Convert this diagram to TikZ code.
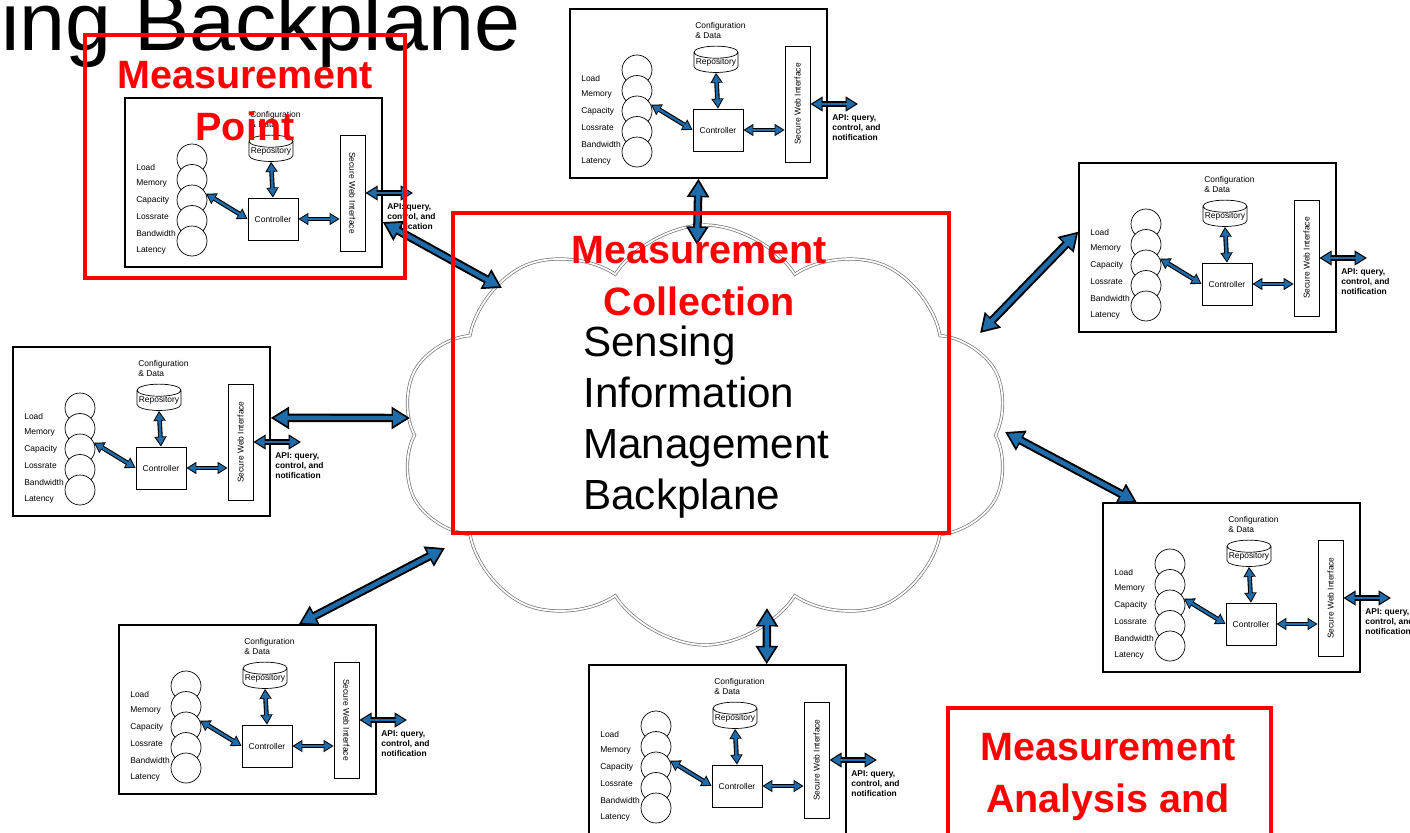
\documentclass[tikz,border=0pt]{standalone}
\usepackage{fontspec}
\setmainfont{Liberation Sans}
\usepackage{tikz}
\usetikzlibrary{calc,arrows.meta,shapes.geometric,shapes.symbols}
\definecolor{linkblue}{RGB}{30,108,170}
\definecolor{markred}{RGB}{255,0,0}
\tikzset{
  modbox/.style={draw, line width=0.8pt, minimum width=5.14cm, minimum height=3.38cm, inner sep=0pt},
  tinytext/.style={font=\fontsize{4.8}{5.7}\selectfont, inner sep=0pt, align=left},
  apitext/.style={font=\bfseries\fontsize{4.8}{5.7}\selectfont, inner sep=0pt, align=left},
  repo/.style={draw, cylinder, shape border rotate=90, aspect=0.3, minimum width=0.88cm, minimum height=0.5cm, inner sep=0pt, font=\fontsize{4.8}{5.7}\selectfont},
  ctrl/.style={draw, fill=white, minimum width=1cm, minimum height=0.84cm, inner sep=0pt, font=\fontsize{4.8}{5.7}\selectfont},
  swi/.style={draw, minimum width=0.5cm, minimum height=2.32cm, inner sep=0pt},
  stackc/.style={draw, circle, fill=white, minimum size=0.6cm, inner sep=0pt},
  linkout/.style={black, line width=#1*2.3pt, {Triangle[width=5.8pt,length=5pt,scale=#1]}-{Triangle[width=5.8pt,length=5pt,scale=#1]}},
  linkin/.style={linkblue, line width=#1*1.2pt, shorten <=#1*0.9pt, shorten >=#1*0.9pt, {Triangle[width=4.2pt,length=3.7pt,scale=#1]}-{Triangle[width=4.2pt,length=3.7pt,scale=#1]}},
  redframe/.style={draw=markred, line width=2.6pt},
  redlabel/.style={text=markred, font=\bfseries\fontsize{22.5}{29.5}\selectfont, align=center, inner sep=0pt},
}
\newcommand{\fatlink}[3]{\draw[linkout=#1] (#2) -- (#3); \draw[linkin=#1] (#2) -- (#3);}
\newcommand{\sensorbox}[4]{%
  \begin{scope}[shift={(#2,#3)}]
    \node[modbox] (#1) at (128.5,84.5) {};
    \node[tinytext, anchor=north west] at (125,13) {Configuration\\\& Data};
    \node[repo] (#1-repo) at (146,53.5) {Repository};
    \node[ctrl] (#1-ctrl) at (148,121) {Controller};
    \node[swi] (#1-swi) at (227.5,95) {};
    \node[tinytext, rotate=#4] at (#1-swi) {Secure Web Interface};
    \foreach \k in {1,...,5}
      \node[stackc] (#1-c\k) at (67,{61+20.5*(\k-1)}) {};
    \foreach \lab [count=\k] in {Load,Memory,Capacity,Lossrate,Bandwidth,Latency}
      \node[tinytext, anchor=west] at (11,{69+16.6*(\k-1)}) {\lab};
    \coordinate (#1-api) at (288,95);
    \node[apitext, anchor=north west] at (262,105) {API: query,\\control, and\\notification};
    \fatlink{1.15}{#1-c3.25}{#1-ctrl.west}
    \fatlink{1.15}{#1-repo.south}{#1-ctrl.north}
    \fatlink{1.15}{#1-ctrl.east}{#1-ctrl.east -| #1-swi.west}
    \fatlink{1.4}{#1-swi.east}{#1-api}
  \end{scope}}

\begin{document}
\begin{tikzpicture}[x=0.02cm, y=-0.02cm]
\useasboundingbox (0,0) rectangle (1410,832);
\clip (0,0) rectangle (1410,832);
\fill[white] (0,0) rectangle (1410,832);

\node[font=\fontsize{47}{50}\selectfont, anchor=base west, inner sep=0pt] (title) at (1,50) {ing Backplane};

\node[cloud, cloud puffs=10, cloud puff arc=115, draw=black!55, double, double distance=1pt, line width=0.4pt,
      minimum width=12.2cm, minimum height=8.4cm, aspect=1.3] (cloud) at (705,435) {};

\sensorbox{mtl}{125}{98}{-90}
\sensorbox{mtc}{570}{9}{90}
\sensorbox{mtr}{1079}{163}{90}
\sensorbox{mlm}{13}{347}{90}
\sensorbox{mbr}{1103}{503}{90}
\sensorbox{mbl}{119}{625}{-90}
\sensorbox{mbc}{589}{665}{90}

\coordinate (cl-tl) at (502,288);
\coordinate (cl-tc) at (697,245);
\coordinate (cl-tr) at (980,333);
\coordinate (cl-br) at (1005,432);
\coordinate (cl-lm) at (410,418);
\coordinate (cl-bl) at (445,548);
\coordinate (cl-bc) at (767,608);

\fatlink{2.1}{mtl.-17}{cl-tl}
\fatlink{2.1}{mtc.south}{cl-tc}
\fatlink{2.1}{mtr.173}{cl-tr}
\fatlink{2.1}{mbr.138}{cl-br}
\fatlink{2.1}{mlm.6}{cl-lm}
\fatlink{2.1}{mbl.59}{cl-bl}
\fatlink{2.1}{mbc.60}{cl-bc}

\draw[redframe] (85,35) rectangle (405,278);
\draw[redframe] (453,213) rectangle (949,533);
\draw[redframe] (948,708) rectangle (1271,900);

\node[redlabel] (mp-lab) at (245,101) {Measurement\\Point};
\node[redlabel] (mc-lab) at (699,276) {Measurement\\Collection};
\node[redlabel] (ma-lab) at (1108,777) {Measurement\\Analysis and};

\node[font=\fontsize{24}{29}\selectfont, align=left, anchor=north west, inner sep=0pt] (sim) at (583,326) {Sensing\\Information\\Management\\Backplane};
\end{tikzpicture}
\end{document}
